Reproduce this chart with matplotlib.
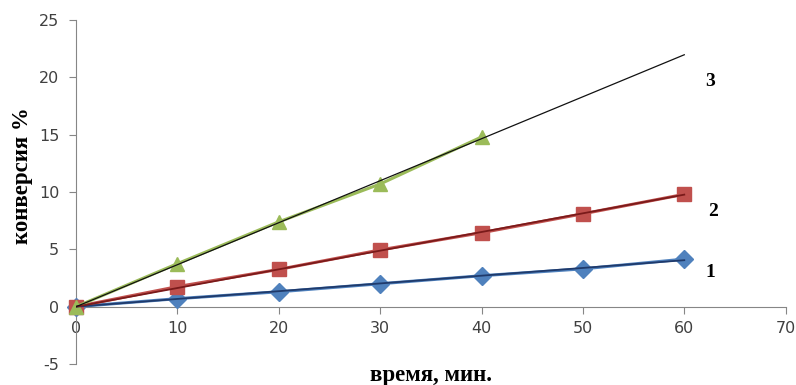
import numpy as np
import matplotlib
matplotlib.use("Agg")
import matplotlib.pyplot as plt

# [1. данные]
time_min = [0, 10, 20, 30, 40, 50, 60]
conv_1 = [0, 0.7, 1.3, 2.0, 2.7, 3.3, 4.15]
conv_2 = [0, 1.75, 3.25, 4.95, 6.45, 8.1, 9.8]
time_3 = [0, 10, 20, 30, 40]
conv_3 = [0, 3.75, 7.4, 10.7, 14.8]
trend_x = [0, 60]
curve_labels = ["1", "2", "3"]

# [2. стиль]
plt.rcParams['font.family'] = ['DejaVu Sans']
plt.rcParams['axes.unicode_minus'] = False
tick_color = '#404040'
axis_color = '#868686'

fig = plt.figure(figsize=(7.96, 3.85), dpi=100)
ax = fig.add_axes([0.0955, 0.0545, 0.8915, 0.8935])

series = [
    (time_min, conv_1, '#4F81BD', '#1F3A6B', 'D', 9),
    (time_min, conv_2, '#C0504D', '#7A1A1A', 's', 10),
    (time_3, conv_3, '#9BBB59', '#111111', '^', 10),
]

for x, y, col, tcol, mk, ms in series:
    ax.plot(x, y, color=col, lw=2.2, marker=mk, markersize=ms,
            markeredgecolor=col, zorder=3, clip_on=False)
    x = np.array(x, dtype=float)
    y = np.array(y, dtype=float)
    k = np.sum(x * y) / np.sum(x * x)  # линейный тренд через ноль
    tx = np.array(trend_x, dtype=float)
    ax.plot(tx, k * tx, color=tcol, lw=0.9 if tcol == '#111111' else 1.3, zorder=4)

# подписи кривых
label_pos = [(62.1, 3.0), (62.4, 8.3), (62.1, 19.6)]
for lab, (lx, ly) in zip(curve_labels, label_pos):
    ax.text(lx, ly, lab, family='Liberation Serif', fontweight='bold',
            fontsize=14, ha='left', va='center', color='black')

ax.set_xlim(0, 70)
ax.set_ylim(-5, 25)
ax.set_xticks(range(0, 71, 10))
ax.set_yticks(range(-5, 26, 5))

ax.spines['top'].set_visible(False)
ax.spines['right'].set_visible(False)
ax.spines['bottom'].set_position(('data', 0))
ax.spines['left'].set_color(axis_color)
ax.spines['bottom'].set_color(axis_color)

ax.tick_params(axis='both', direction='out', length=5, width=0.8,
               color=axis_color, labelcolor=tick_color, labelsize=11.5)
ax.tick_params(axis='x', pad=5)
ax.tick_params(axis='y', pad=7)

fig.text(0.028, 0.543, 'конверсия %', family='Liberation Serif',
         fontweight='bold', fontsize=16.5, rotation=90,
         ha='center', va='center')
fig.text(0.541, 0.025, 'время, мин.', family='Liberation Serif',
         fontweight='bold', fontsize=16.5, ha='center', va='center')

plt.savefig('out.png', dpi=100)
plt.close()
